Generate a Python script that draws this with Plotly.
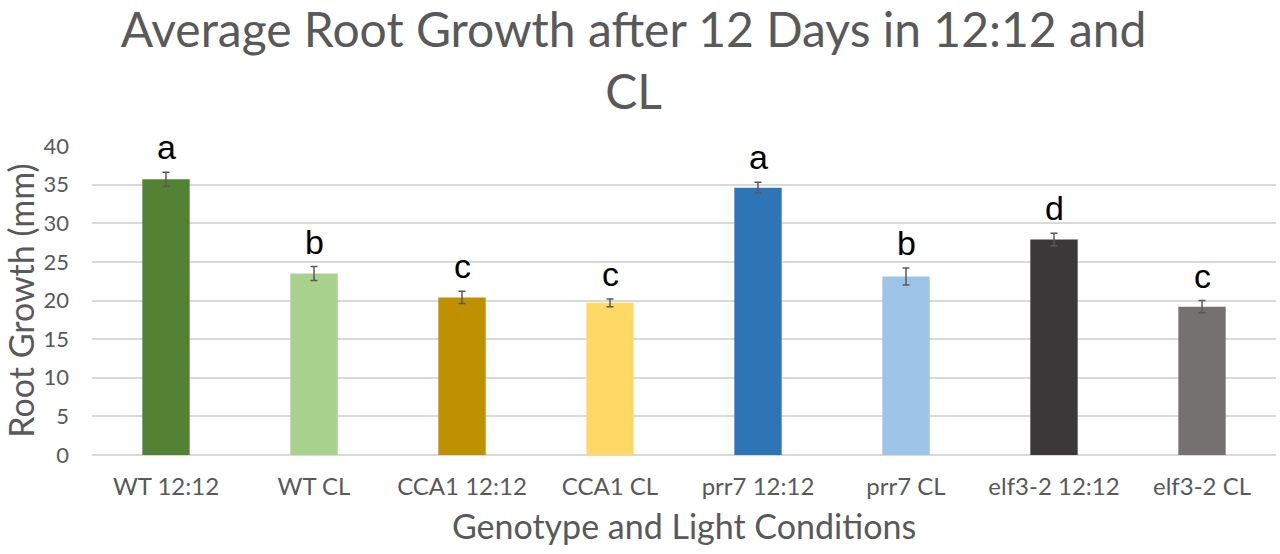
import plotly.graph_objects as go

# genotyp + warunki swiatla
categories = ['WT 12:12', 'WT CL', 'CCA1 12:12', 'CCA1 CL',
              'prr7 12:12', 'prr7 CL', 'elf3-2 12:12', 'elf3-2 CL']
growth = [35.7, 23.5, 20.4, 19.7, 34.6, 23.1, 27.9, 19.2]
errors = [0.9, 0.9, 0.8, 0.5, 0.7, 1.1, 0.8, 0.8]
letters = ['a', 'b', 'c', 'c', 'a', 'b', 'd', 'c']
colors = ['#548235', '#a9d18e', '#bf9000', '#ffd966',
          '#2e75b6', '#9dc3e6', '#3a3838', '#767171']

grey = '#595959'
font_main = 'Lato, Open Sans, sans-serif'

fig = go.Figure(go.Bar(
    x=categories, y=growth,
    marker_color=colors, marker_line_width=0,
    error_y=dict(type='data', array=errors, color=grey, thickness=1.5, width=3.5),
))

# literki istotnosci nad slupkami
for cat, val, err, let in zip(categories, growth, errors, letters):
    fig.add_annotation(x=cat, y=val + err, text=let, showarrow=False,
                       yanchor='bottom', yshift=4,
                       font=dict(family='Liberation Sans, Arial', size=34, color='black'))

fig.update_layout(
    width=1280, height=554,
    margin=dict(l=92, r=4, t=146, b=99),
    paper_bgcolor='white', plot_bgcolor='white',
    bargap=0.68, showlegend=False,
    title=dict(text='Average Root Growth after 12 Days in 12:12 and<br>CL',
               x=0.495, xref='container', xanchor='center', y=0.915, yanchor='top',
               font=dict(family=font_main, size=48, color=grey)),
    xaxis=dict(tickfont=dict(family=font_main, size=24, color=grey),
               ticklabelstandoff=15,
               title=dict(text='Genotype and Light Conditions', standoff=16,
                          font=dict(family=font_main, size=34, color=grey)),
               showline=False, ticks=''),
    yaxis=dict(range=[0, 40], dtick=5, gridcolor='#d9d9d9', gridwidth=1.5,
               zeroline=True, zerolinecolor='#d9d9d9', zerolinewidth=1.5,
               tickfont=dict(family=font_main, size=22, color=grey), ticks='',
               ticklabelstandoff=22, automargin=False,
               title=dict(text='Root Growth (mm)', standoff=6,
                          font=dict(family=font_main, size=34, color=grey))),
)

# bez marginesu strony, zeby wykres siedzial w rogu okna
fig.write_html('out.html', config={'displayModeBar': False},
               post_script="document.body.style.margin='0px';")
